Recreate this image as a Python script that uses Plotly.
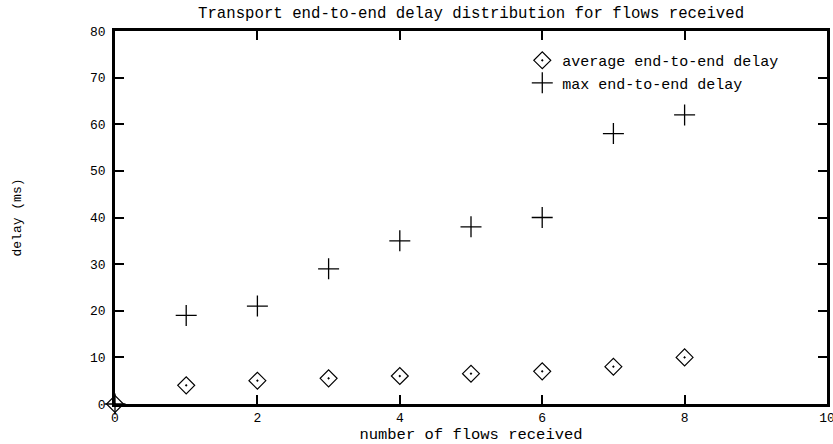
import plotly.graph_objects as go

flows = [0, 1, 2, 3, 4, 5, 6, 7, 8]
avg_delay = [0, 4, 5, 5.5, 6, 6.5, 7, 8, 10]
max_delay = [0, 19, 21, 29, 35, 38, 40, 58, 62]

x_ticks = [0, 2, 4, 6, 8, 10]
y_ticks = [0, 10, 20, 30, 40, 50, 60, 70, 80]

MONO = "Liberation Mono, Courier New, monospace"

fig = go.Figure()
fig.add_trace(go.Scatter(
    x=flows, y=avg_delay, mode="markers", name="average end-to-end delay",
    marker=dict(symbol="diamond-open-dot", size=13, color="black", line=dict(width=1.2, color="black")),
    cliponaxis=False,
))
fig.add_trace(go.Scatter(
    x=flows, y=max_delay, mode="markers", name="max end-to-end delay",
    marker=dict(symbol="cross-thin-open", size=15, color="black", line=dict(width=1.3, color="black")),
    cliponaxis=False,
))

axis_common = dict(
    showline=True, linecolor="black", linewidth=2.5, mirror="allticks",
    ticks="inside", ticklen=9, tickwidth=2, tickcolor="black",
    showgrid=False, zeroline=False, automargin=False,
    ticklabeloverflow="allow",
    tickfont=dict(family=MONO, size=13, color="black"),
)

fig.update_layout(
    width=833, height=444,
    paper_bgcolor="white", plot_bgcolor="white",
    margin=dict(l=115, r=6, t=31, b=40),
    title=dict(text="Transport end-to-end delay distribution for flows received",
               font=dict(family=MONO, size=15.7, color="black"),
               x=0.5655, xanchor="center", y=1 - 13 / 444, yanchor="middle", yref="container",
               automargin=False),
    xaxis=dict(range=[0, 10], tickvals=x_ticks, ticktext=[str(v) for v in x_ticks],
               title=dict(text="number of flows received", font=dict(family=MONO, size=15.5, color="black"), standoff=0),
               **axis_common),
    yaxis=dict(range=[0, 80], tickvals=y_ticks, ticktext=[str(v) for v in y_ticks],
               ticklabelstandoff=4,
               title=dict(text="delay (ms)", font=dict(family=MONO, size=13, color="black"), standoff=66),
               **axis_common),
    legend=dict(x=0.94, xanchor="right", y=0.965, yanchor="top",
                bgcolor="rgba(0,0,0,0)", font=dict(family=MONO, size=15, color="black"),
                tracegroupgap=0, itemwidth=30),
    showlegend=True,
)

fig.write_html("out.html", config={"displayModeBar": False},
               post_script="document.body.style.margin='0';document.body.style.overflow='hidden';")
